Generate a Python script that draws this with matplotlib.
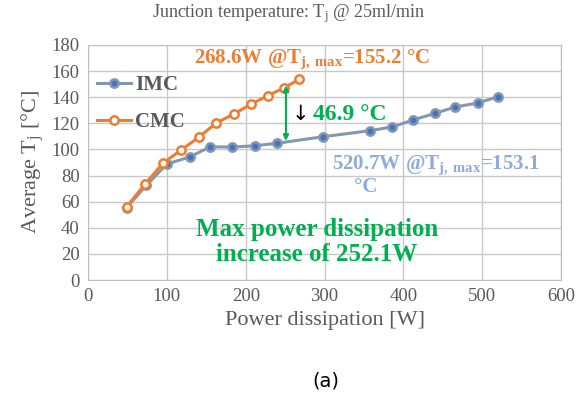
import matplotlib
matplotlib.use("Agg")
import matplotlib.pyplot as plt

# Data
imc_power = [49, 74, 100, 129, 155, 183, 212, 240, 298, 357, 386, 412, 440, 466, 494, 520]
imc_temp = [55.5, 72.5, 88.8, 94.2, 102, 101.8, 102.8, 104.7, 109.7, 114.3, 117.2, 122.5, 127.6, 132.5, 135.5, 140.3]
cmc_power = [49, 72, 95, 118, 141, 162, 185, 207, 228, 248, 268]
cmc_temp = [56, 73.3, 89.4, 99.5, 109.5, 120, 127.1, 134.8, 141.1, 147, 153.7]

plt.rcParams['font.family'] = ['Liberation Serif', 'DejaVu Serif']
plt.rcParams['mathtext.fontset'] = 'custom'
plt.rcParams['mathtext.rm'] = 'Liberation Serif'
plt.rcParams['mathtext.bf'] = 'Liberation Serif:bold'
plt.rcParams['mathtext.it'] = 'Liberation Serif:italic'

IMC_LINE = '#8497b0'
IMC_DOT = '#4472c4'
CMC_COLOR = '#ed7d31'
GREEN = '#00b050'
LABEL_BLUE = '#8faadc'
TEXT_GRAY = '#595959'

fig = plt.figure(figsize=(5.77, 4.01), dpi=100)
ax = fig.add_axes([0.1525, 0.3017, 0.82, 0.5863])

ax.plot(imc_power, imc_temp, color=IMC_LINE, lw=2.2, marker='o', ms=6,
        mfc=IMC_DOT, mec=IMC_LINE, mew=1.8, label='IMC', zorder=3)
ax.plot(cmc_power, cmc_temp, color=CMC_COLOR, lw=2.2, marker='o', ms=6,
        mfc='white', mec=CMC_COLOR, mew=1.8, label='CMC', zorder=4)

ax.set_xlim(0, 600)
ax.set_ylim(0, 180)
ax.set_xticks(range(0, 601, 100))
ax.set_yticks(range(0, 181, 20))
ax.grid(True, color='#c8c8c8', lw=1.0)
ax.set_axisbelow(True)
for s in ax.spines.values():
    s.set_color('#bfbfbf')
ax.tick_params(length=0, labelsize=13.5, colors=TEXT_GRAY, pad=6)

ax.set_xlabel('Power dissipation [W]', fontsize=16, color=TEXT_GRAY, labelpad=4)
ax.set_ylabel('Average T$_\\mathrm{j}$ [°C]', fontsize=16, color=TEXT_GRAY, labelpad=4)
fig.text(0.5, 0.965, 'Junction temperature: T$_\\mathrm{j}$ @ 25ml/min',
         ha='center', va='center', fontsize=13, color=TEXT_GRAY)

leg = ax.legend(loc='upper left', bbox_to_anchor=(-0.02, 0.95), frameon=False,
                prop={'weight': 'bold', 'size': 15}, labelcolor=TEXT_GRAY,
                handlelength=1.6, handletextpad=0.2, labelspacing=0.8)

# Annotations
ax.text(135, 169, '268.6W @T$_{\\mathbf{j,\\ max}}$=155.2 °C', color=CMC_COLOR,
        fontsize=15, fontweight='bold', va='center')
ax.text(310, 88, '520.7W @T$_{\\mathbf{j,\\ max}}$=153.1', color=LABEL_BLUE,
        fontsize=15, fontweight='bold', va='center')
ax.text(337, 71, '°C', color=LABEL_BLUE, fontsize=15, fontweight='bold', va='center')
ax.annotate('', xy=(251, 106.5), xytext=(251, 149),
            arrowprops=dict(arrowstyle='<|-|>', color=GREEN, lw=1.5,
                            mutation_scale=8, shrinkA=0, shrinkB=0), zorder=6)
ax.text(270, 127, '↓', color='black', fontsize=15, ha='center', va='center',
        family='DejaVu Sans')
ax.text(285, 127, '46.9 °C', color=GREEN, fontsize=17, fontweight='bold', va='center')
ax.text(290, 29, 'Max power dissipation\nincrease of 252.1W', color=GREEN,
        fontsize=18, fontweight='bold', ha='center', va='center', linespacing=1.15)

fig.text(0.565, 0.05, '(a)', ha='center', va='center', fontsize=14,
         color='black', family='DejaVu Sans')

fig.savefig('out.png', dpi=100)
